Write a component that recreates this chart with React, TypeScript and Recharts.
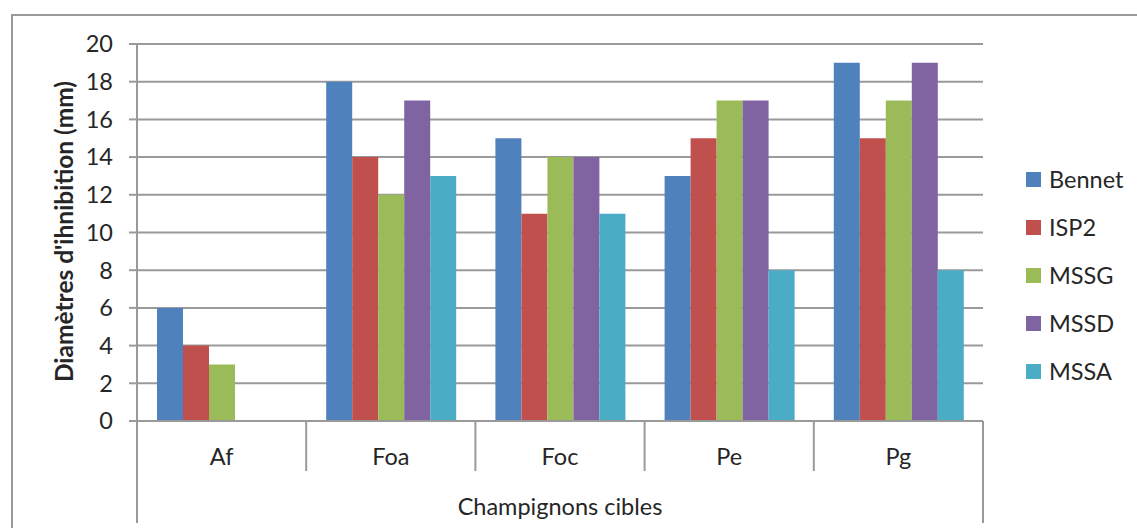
import React from "react";
import { Bar, BarChart, CartesianGrid, XAxis, YAxis } from "recharts";

// Inhibition diameters (mm) per target fungus, one array per strain
const categories = ["Af", "Foa", "Foc", "Pe", "Pg"];
const bennet = [6, 18, 15, 13, 19];
const isp2 = [4, 14, 11, 15, 15];
const mssg = [3, 12, 14, 17, 17];
const mssd = [0, 17, 14, 17, 19];
const mssa = [0, 13, 11, 8, 8];
const yTicks = [0, 2, 4, 6, 8, 10, 12, 14, 16, 18, 20];

const SERIES = [
  { key: "Bennet", values: bennet, color: "#4F81BD" },
  { key: "ISP2", values: isp2, color: "#C0504D" },
  { key: "MSSG", values: mssg, color: "#9BBB59" },
  { key: "MSSD", values: mssd, color: "#8064A2" },
  { key: "MSSA", values: mssa, color: "#4BACC6" },
];

const rows = categories.map((name, i) => {
  const row: Record<string, string | number> = { name };
  SERIES.forEach((s) => {
    row[s.key] = s.values[i];
  });
  return row;
});

const W = 1137;
const H = 528;
const MARGIN = { top: 44, right: 154, bottom: 0, left: 11 };
const Y_AXIS_W = 126;
const X_AXIS_H = 107;
const PLOT_W = W - MARGIN.left - MARGIN.right - Y_AXIS_W;
const BAND = PLOT_W / categories.length;

const FONT = "Lato, 'Open Sans', sans-serif";
const FS = 23.5;
const TEXT = "#262626";
const LINE = "#9a9a9a";

// Category label plus the Excel-style separators between categories
function CategoryTick(props: any) {
  const { x, y, payload, index } = props;
  const left = x - BAND / 2;
  const right = x + BAND / 2;
  const last = index === categories.length - 1;
  return (
    <g>
      <line x1={left} x2={left} y1={y} y2={y + (index === 0 ? 102 : 50)} stroke={LINE} strokeWidth={2} />
      {last ? <line x1={right} x2={right} y1={y} y2={y + 102} stroke={LINE} strokeWidth={2} /> : null}
      <text x={x} y={y + 44} textAnchor="middle" fill={TEXT} fontFamily={FONT} fontSize={FS}>
        {payload.value}
      </text>
    </g>
  );
}

// Series key, kept in series order on the right of the plot
function SeriesKey() {
  return (
    <div
      style={{
        position: "absolute",
        left: 1026,
        top: 155,
        fontFamily: FONT,
        fontSize: FS,
        color: TEXT,
      }}
    >
      {SERIES.map((s) => (
        <div key={s.key} style={{ display: "flex", alignItems: "center", height: 48 }}>
          <span style={{ width: 15, height: 15, background: s.color, marginRight: 8 }} />
          <span>{s.key}</span>
        </div>
      ))}
    </div>
  );
}

export default function App() {
  return (
    <div
      style={{
        position: "absolute",
        left: 0,
        top: 0,
        width: W,
        height: H,
        overflow: "hidden",
        background: "#fff",
      }}
    >
      <div
        style={{
          position: "absolute",
          left: 11,
          top: 14,
          width: W + 50,
          height: H + 50,
          border: `2px solid ${LINE}`,
        }}
      />
      <div style={{ position: "absolute", left: 0, top: 0 }}>
        <BarChart width={W} height={H} data={rows} margin={MARGIN} barCategoryGap={20} barGap={0}>
          <CartesianGrid vertical={false} stroke={LINE} strokeWidth={2} />
          <XAxis
            dataKey="name"
            height={X_AXIS_H}
            axisLine={{ stroke: LINE, strokeWidth: 2 }}
            tickLine={false}
            tickSize={0}
            tickMargin={0}
            interval={0}
            tick={<CategoryTick />}
            label={(p: any) => {
              const vb = p.viewBox;
              return (
                <text
                  x={vb.x + vb.width / 2}
                  y={vb.y + 94}
                  textAnchor="middle"
                  fill={TEXT}
                  fontFamily={FONT}
                  fontSize={FS}
                >
                  Champignons cibles
                </text>
              );
            }}
          />
          <YAxis
            width={Y_AXIS_W}
            domain={[0, 20]}
            ticks={yTicks}
            interval={0}
            axisLine={{ stroke: LINE, strokeWidth: 2 }}
            tickLine={{ stroke: LINE, strokeWidth: 2 }}
            tickSize={8}
            tickMargin={16}
            tick={{ fill: TEXT, fontFamily: FONT, fontSize: FS }}
            label={(p: any) => {
              const vb = p.viewBox;
              const cx = vb.x + 52;
              const cy = vb.y + vb.height / 2 - 1;
              return (
                <text
                  x={cx}
                  y={cy}
                  transform={`rotate(-90, ${cx}, ${cy})`}
                  textAnchor="middle"
                  dominantBaseline="central"
                  fill={TEXT}
                  fontFamily={FONT}
                  fontSize={24.5}
                  fontWeight="bold"
                >
                  Diamètres d'ihnibition (mm)
                </text>
              );
            }}
          />
          {SERIES.map((s) => (
            <Bar key={s.key} dataKey={s.key} name={s.key} fill={s.color} isAnimationActive={false} />
          ))}
        </BarChart>
      </div>
      <SeriesKey />
    </div>
  );
}
